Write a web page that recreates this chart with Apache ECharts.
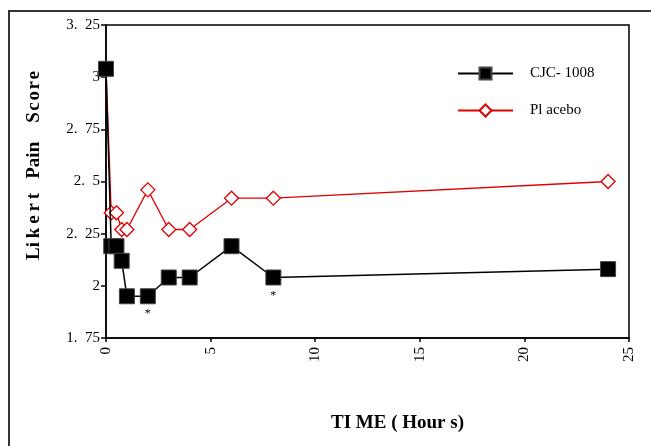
<!DOCTYPE html>
<html>
<head>
<meta charset="utf-8">
<title>Likert Pain Score</title>
<script src="https://cdn.jsdelivr.net/npm/echarts@6/dist/echarts.min.js"></script>
<style>
  html, body { margin: 0; padding: 0; background: #fff; }
  #chart { width: 651px; height: 446px; }
</style>
</head>
<body>
<div id="chart"></div>
<script>
// time points in hours
const hours = [0, 0.25, 0.5, 0.75, 1, 2, 3, 4, 6, 8, 24]
const cjcScores = [3.04, 2.19, 2.19, 2.12, 1.95, 1.95, 2.04, 2.04, 2.19, 2.04, 2.08]
const placeboScores = [3.04, 2.35, 2.35, 2.27, 2.27, 2.46, 2.27, 2.27, 2.42, 2.42, 2.50]
// points marked as significant (*)
const starredHours = [2, 8]
const yTickLabels = ['1.  75', '2', '2.  25', '2.  5', '2.  75', '3', '3.  25']
const yTickValues = [1.75, 2, 2.25, 2.5, 2.75, 3, 3.25]

const serif = '"Liberation Serif", "Times New Roman", serif'
// spaced-out axis title like the scanned original (thin / hair spaces)
const yTitle = 'Li\u2009k\u2009e\u2009r\u2009t   Pain    S\u200ac\u200ao\u200ar\u200ae'

function toPoints(xs, ys) {
  return xs.map((x, i) => ({ value: [x, ys[i]] }))
}

const cjcData = toPoints(hours, cjcScores).map(d => {
  if (starredHours.indexOf(d.value[0]) >= 0) {
    d.label = {
      show: true,
      position: 'bottom',
      distance: 4,
      formatter: '*',
      fontFamily: serif,
      fontSize: 12,
      color: '#000'
    }
  }
  return d
})

const chart = echarts.init(document.getElementById('chart'), null, { renderer: 'canvas' })

chart.setOption({
  animation: false,
  backgroundColor: '#fff',
  // outer frame of the figure
  graphic: [{
    type: 'polyline',
    shape: { points: [[9, 446], [9, 11], [651, 11]] },
    style: { stroke: '#333', lineWidth: 2, fill: null },
    silent: true
  }],
  grid: {
    left: 106,
    top: 25,
    right: 22,
    bottom: 108,
    show: true,
    borderColor: '#000',
    borderWidth: 1.5,
    containLabel: false
  },
  legend: {
    left: 457,
    top: 66,
    padding: 0,
    orient: 'vertical',
    itemWidth: 55,
    itemHeight: 15,
    itemGap: 22,
    data: ['CJC- 1008', 'Pl acebo'],
    textStyle: {
      fontFamily: serif,
      fontSize: 15,
      lineHeight: 12,
      color: '#000',
      padding: [0, 0, 0, 12]
    }
  },
  xAxis: {
    type: 'value',
    min: 0,
    max: 25,
    interval: 5,
    name: 'TI ME ( Hour s)',
    nameLocation: 'middle',
    nameGap: 76,
    nameTextStyle: {
      fontFamily: serif,
      fontSize: 19,
      fontWeight: 'bold',
      color: '#000',
      padding: [0, 0, 0, 60]
    },
    axisLine: { show: true, onZero: false, lineStyle: { color: '#000', width: 1.5 } },
    axisTick: { show: true, length: 4, lineStyle: { color: '#000', width: 1.5 } },
    axisLabel: {
      rotate: 90,
      margin: 9,
      fontFamily: serif,
      fontSize: 15,
      color: '#000'
    },
    splitLine: { show: false }
  },
  yAxis: {
    type: 'value',
    min: 1.75,
    max: 3.25,
    interval: 0.25,
    name: yTitle,
    nameLocation: 'middle',
    nameRotate: 90,
    nameGap: 62,
    nameTextStyle: {
      fontFamily: serif,
      fontSize: 19,
      fontWeight: 'bold',
      color: '#000',
      padding: [0, 0, 0, 32]
    },
    axisLine: { show: true, onZero: false, lineStyle: { color: '#000', width: 1.5 } },
    axisTick: { show: true, length: 5, lineStyle: { color: '#000', width: 1.5 } },
    axisLabel: {
      margin: 6,
      fontFamily: serif,
      fontSize: 15,
      color: '#000',
      formatter: function (v) {
        const i = yTickValues.findIndex(t => Math.abs(t - v) < 1e-6)
        return i >= 0 ? yTickLabels[i] : ''
      }
    },
    splitLine: { show: false }
  },
  series: [{
    name: 'Pl acebo',
    type: 'line',
    z: 2,
    data: toPoints(hours, placeboScores),
    symbol: 'diamond',
    symbolSize: 14,
    showAllSymbol: true,
    lineStyle: { color: '#e00000', width: 1.3 },
    itemStyle: { color: '#fff', borderColor: '#e00000', borderWidth: 1.3 }
  }, {
    name: 'CJC- 1008',
    type: 'line',
    z: 3,
    data: cjcData,
    symbol: 'rect',
    symbolSize: 15,
    showAllSymbol: true,
    lineStyle: { color: '#000', width: 1.5 },
    itemStyle: { color: '#000', borderColor: '#444', borderWidth: 1 }
  }]
})
</script>
</body>
</html>
